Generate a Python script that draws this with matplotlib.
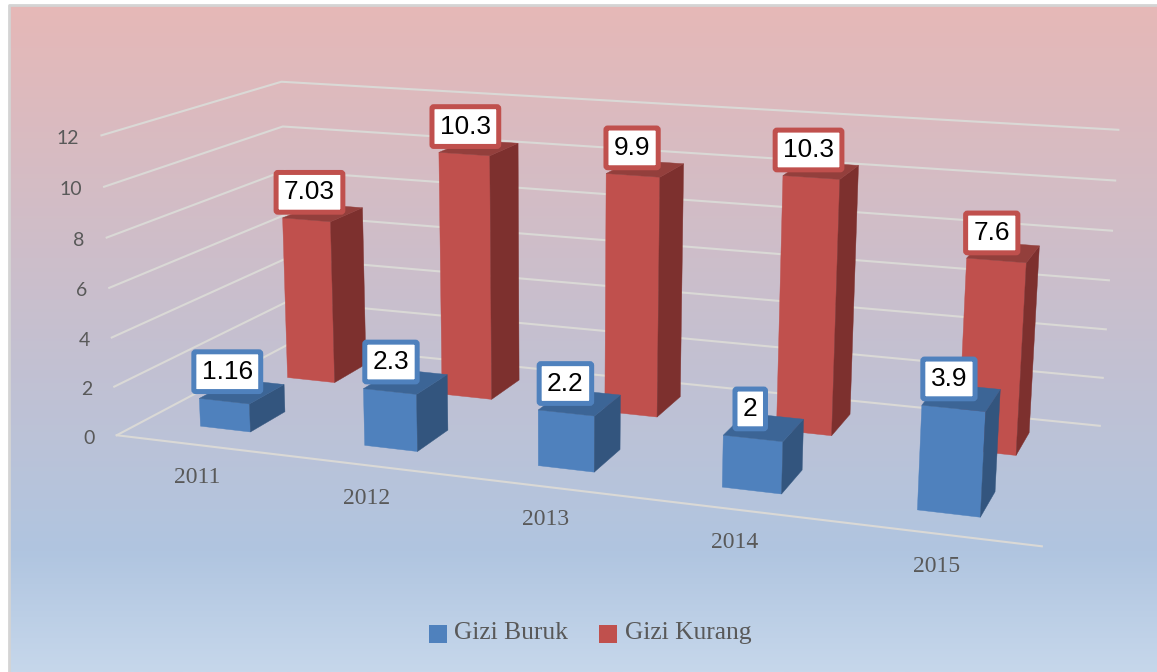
import numpy as np
import matplotlib
matplotlib.use("Agg")
import matplotlib.pyplot as plt
from matplotlib.patches import Polygon, Patch, Rectangle
from matplotlib.legend_handler import HandlerPatch
from matplotlib.colors import LinearSegmentedColormap

# ---- data ----
years = ["2011", "2012", "2013", "2014", "2015"]
gizi_buruk = [1.16, 2.3, 2.2, 2, 3.9]
gizi_kurang = [7.03, 10.3, 9.9, 10.3, 7.6]
gizi_buruk_labels = ["1.16", "2.3", "2.2", "2", "3.9"]
gizi_kurang_labels = ["7.03", "10.3", "9.9", "10.3", "7.6"]
y_ticks = [0, 2, 4, 6, 8, 10, 12]
series_names = ["Gizi Buruk", "Gizi Kurang"]

W, H = 1157, 672
fig = plt.figure(figsize=(W / 100, H / 100), dpi=100, facecolor="white")
ax = fig.add_axes([0, 0, 1, 1])
ax.axis("off")

# background gradient
cmap = LinearSegmentedColormap.from_list(
    "bg", [(0, "#E6B8B7"), (0.82, "#B0C5E0"), (1, "#C6D7EB")])
ax.imshow(np.linspace(0, 1, 256)[:, None], cmap=cmap, aspect="auto",
          extent=[9, 1157, 672, 5], zorder=0)
ax.set_xlim(0, W)
ax.set_ylim(H, 0)
ax.plot([9, 9, 1157], [672, 5, 5], color="#D4D4D4", lw=2.0, zorder=1)

# perspective camera from the plot box corners: (cat, depth, value) -> pixel
world = [(0, 0, 0), (5, 0, 0), (0, 1, 0), (5, 1, 0), (0, 0, 12), (0, 1, 12), (5, 1, 12)]
pix = [(118, 434), (1042, 547), (288, 345), (1100, 425), (100, 136), (283, 81), (1118, 130)]
A, b = [], []
for (X, Y, Z), (u, v) in zip(world, pix):
    A.append([X, Y, Z, 1, 0, 0, 0, 0, -u * X, -u * Y, -u * Z]); b.append(u)
    A.append([0, 0, 0, 0, X, Y, Z, 1, -v * X, -v * Y, -v * Z]); b.append(v)
m = np.linalg.lstsq(np.array(A, float), np.array(b, float), rcond=None)[0]
M = np.append(m, 1.0).reshape(3, 4)


def proj(x, y, z):
    p = M @ np.array([x, y, z, 1.0])
    return p[0] / p[2], p[1] / p[2]


# gridlines
grid_c = "#DAD9D6"
for t in y_ticks:
    pts = [proj(0, 0, t), proj(0, 1, t), proj(5, 1, t)]
    ax.plot(*zip(*pts), color=grid_c, lw=1.5, zorder=2, solid_joinstyle="miter")
    u, v = pts[0]
    ax.annotate(str(t), (u, v), xytext=(-22, -3), textcoords="offset pixels",
                ha="right", va="center", fontsize=14, color="#595959", family="Lato", zorder=3)
ax.plot(*zip(proj(0, 0, 0), proj(5, 0, 0)), color=grid_c, lw=1.5, zorder=2)

gap = 0.345
depths = {"b": (0.15, 0.35), "r": (0.66, 0.87)}


def bar(i, val, d, front, side, top, z):
    x0, x1 = i + gap, i + 1 - gap
    y0, y1 = d
    ax.add_patch(Polygon([proj(x0, y0, 0), proj(x1, y0, 0), proj(x1, y0, val), proj(x0, y0, val)],
                         fc=front, ec=front, lw=0.3, zorder=z))
    ax.add_patch(Polygon([proj(x1, y0, 0), proj(x1, y1, 0), proj(x1, y1, val), proj(x1, y0, val)],
                         fc=side, ec=side, lw=0.3, zorder=z))
    ax.add_patch(Polygon([proj(x0, y0, val), proj(x1, y0, val), proj(x1, y1, val), proj(x0, y1, val)],
                         fc=top, ec=top, lw=0.3, zorder=z))


def label(i, val, txt, d, col, up):
    u, v = proj(i + 0.5, d[0], val)
    ax.annotate(txt, (u, v), xytext=(3 - 1.9 * i, up), textcoords="offset pixels", ha="center",
                va="center_baseline", fontsize=18.9, family="Liberation Sans", color="black", zorder=20,
                bbox=dict(boxstyle="round,pad=0.3,rounding_size=0.07", fc="white", ec=col, lw=3.6))


blue = ("#4F81BD", "#33557E", "#3C6596")
red = ("#C0504D", "#7D302E", "#933F3C")
for i, v in enumerate(gizi_kurang):
    bar(i, v, depths["r"], *red, 5)
for i, v in enumerate(gizi_buruk):
    bar(i, v, depths["b"], *blue, 6)
for i, v in enumerate(gizi_kurang):
    label(i, v, gizi_kurang_labels[i], depths["r"], red[0], 30)
for i, v in enumerate(gizi_buruk):
    label(i, v, gizi_buruk_labels[i], depths["b"], blue[0], 32)

for i, y in enumerate(years):
    u, v = proj(i + 0.5, 0, 0)
    ax.annotate(y, (u, v), xytext=(0, -33), textcoords="offset pixels", ha="center", va="center",
                fontsize=17, family="Liberation Serif", color="#595959", zorder=3)


def low_square(legend, orig_handle, xdescent, ydescent, width, height, fontsize):
    return Rectangle((-xdescent, -ydescent - 3.2), width, height)


handles = [Patch(fc=blue[0], ec="none"), Patch(fc=red[0], ec="none")]
ax.legend(handles, series_names, loc="center", bbox_to_anchor=(590, 632),
          bbox_transform=ax.transData, ncol=2, frameon=False,
          handlelength=0.72, handleheight=0.72, handletextpad=0.28, columnspacing=1.2,
          prop={"family": "Liberation Serif", "size": 18.4},
          labelcolor="#595959",
          handler_map={Patch: HandlerPatch(patch_func=low_square)})

fig.savefig("out.png", dpi=100)
